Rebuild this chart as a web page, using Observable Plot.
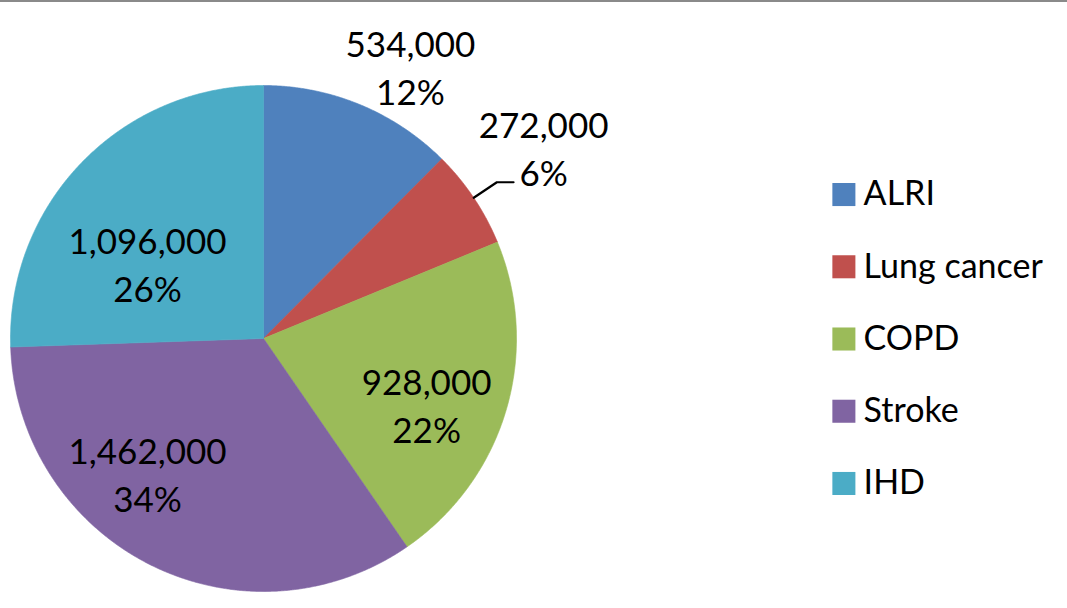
<!DOCTYPE html>
<html>
<head>
<meta charset="utf-8">
<script src="https://cdn.jsdelivr.net/npm/d3@7"></script>
<script src="https://cdn.jsdelivr.net/npm/@observablehq/plot@0.6"></script>
<style>
  html, body { margin: 0; padding: 0; background: #fff; }
  #chart svg { display: block; }
</style>
</head>
<body>
<div id="chart"></div>
<script>
// ---- data ----
const categories = ["ALRI", "Lung cancer", "COPD", "Stroke", "IHD"];
const deaths = [534000, 272000, 928000, 1462000, 1096000];
const colors = ["#4F81BD", "#C0504D", "#9BBB59", "#8064A2", "#4BACC6"];

// ---- layout (unit = pie radius) ----
const W = 1067, H = 608;
const R = 253, cx = 263, cy = 338;
const xDomain = [-cx / R, (W - cx) / R];
const yDomain = [-(H - cy) / R, cy / R];
// label anchors: [angle from top clockwise (deg), radius factor]
const labelPolar = {
  "ALRI": [28.3, 1.225],
  "Lung cancer": [55.6, 1.342],
  "COPD": [111.7, 0.694],
  "Stroke": [220.9, 0.70],
  "IHD": [303.2, 0.548]
};
const leaderFor = "Lung cancer";

const total = d3.sum(deaths);
const fmt = d3.format(",");
const rad = (deg) => deg * Math.PI / 180;

// slice polygons computed from the values
const slices = [];
let acc = 0;
categories.forEach((c, i) => {
  const a0 = acc / total * 360;
  acc += deaths[i];
  const a1 = acc / total * 360;
  slices.push({ key: c, x: 0, y: 0 });
  const n = Math.max(2, Math.ceil((a1 - a0) / 0.25));
  for (let k = 0; k <= n; k++) {
    const a = rad(a0 + (a1 - a0) * k / n);
    slices.push({ key: c, x: Math.sin(a), y: Math.cos(a) });
  }
  slices.push({ key: c, x: 0, y: 0 });
});

// labels
const labels = categories.map((c, i) => {
  const [ang, r] = labelPolar[c];
  return {
    key: c,
    x: r * Math.sin(rad(ang)),
    y: r * Math.cos(rad(ang)),
    text: fmt(deaths[i]) + "\n" + Math.round(deaths[i] / total * 100) + "%"
  };
});

// leader line for the small slice
const li = categories.indexOf(leaderFor);
const lStart = d3.sum(deaths.slice(0, li));
const lMid = rad((lStart + deaths[li] / 2) / total * 360);
const lEndX = labels[li].x - 0.119;
const leader = [
  { x: Math.sin(lMid), y: Math.cos(lMid) },
  { x: 1.11 * Math.sin(lMid), y: 1.11 * Math.cos(lMid) },
  { x: lEndX, y: 1.11 * Math.cos(lMid) }
];

// legend
const legend = categories.map((c, i) => ({ key: c, x: 2.294, tx: 2.372, y: 0.569 - i * 0.2855 }));

const plot = Plot.plot({
  width: W,
  height: H,
  margin: 0,
  x: { domain: xDomain, axis: null },
  y: { domain: yDomain, axis: null },
  color: { domain: categories, range: colors },
  style: { fontFamily: "Lato, 'Open Sans', sans-serif", background: "#fff" },
  marks: [
    Plot.ruleY([yDomain[1]], { stroke: "#8a8a8a", strokeWidth: 3 }),
    Plot.line(slices, { x: "x", y: "y", z: "key", fill: "key", stroke: "key", strokeWidth: 0.6, curve: "linear" }),
    Plot.line(leader, { x: "x", y: "y", stroke: "#000", strokeWidth: 2.2 }),
    Plot.text(labels, { x: "x", y: "y", text: "text", fontSize: 35, lineHeight: 1.37, fill: "#000", textAnchor: "middle", lineAnchor: "middle" }),
    Plot.dot(legend, { x: "x", y: "y", fill: "key", symbol: "square", r: 13 }),
    Plot.text(legend, { x: "tx", y: "y", text: "key", fontSize: 34, fill: "#000", textAnchor: "start", lineAnchor: "middle" })
  ]
});
document.getElementById("chart").appendChild(plot);
</script>
</body>
</html>
